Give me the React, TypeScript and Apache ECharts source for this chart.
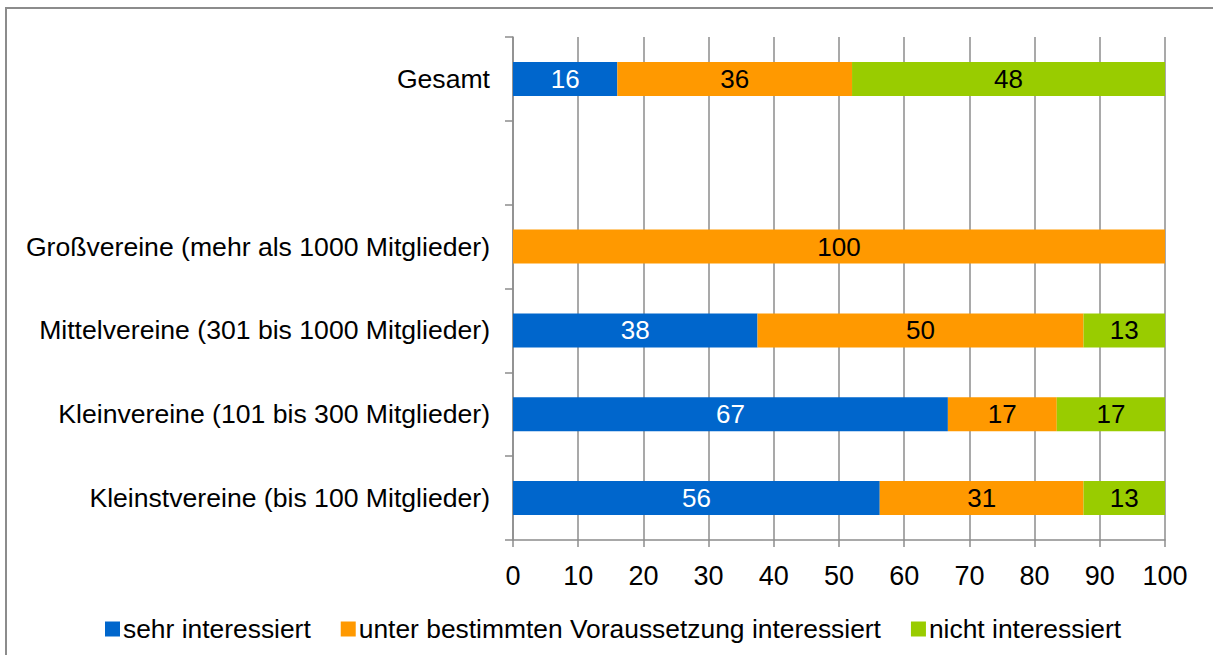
import React, { useEffect, useRef } from "react";
import * as echarts from "echarts";

const categories = [
  "Kleinstvereine (bis 100 Mitglieder)",
  "Kleinvereine (101 bis 300 Mitglieder)",
  "Mittelvereine (301 bis 1000 Mitglieder)",
  "Großvereine (mehr als 1000 Mitglieder)",
  "",
  "Gesamt",
];

const seriesNames = [
  "sehr interessiert",
  "unter bestimmten Voraussetzung interessiert",
  "nicht interessiert",
];

const sehrInteressiert = [56.25, 66.7, 37.5, null, null, 16];
const unterVoraussetzung = [31.25, 16.7, 50, 100, null, 36];
const nichtInteressiert = [12.5, 16.6, 12.5, null, null, 48];

const xTicks = { min: 0, max: 100, interval: 10 };

const colors = ["#0066CC", "#FF9900", "#99CC00"];
const labelColors = ["#ffffff", "#000000", "#000000"];

const FONT = "Liberation Sans, Arial, sans-serif";
const GRAY = "#8c8c8c";

export default function App() {
  const ref = useRef<HTMLDivElement>(null);

  useEffect(() => {
    if (!ref.current) return;
    const chart = echarts.init(ref.current, undefined, { renderer: "svg" });
    const values = [sehrInteressiert, unterVoraussetzung, nichtInteressiert];
    chart.setOption({
      animation: false,
      textStyle: { fontFamily: FONT },
      graphic: [
        {
          type: "rect",
          shape: { x: 6, y: 8, width: 1400, height: 800 },
          style: { fill: "none", stroke: "#8c8c8c", lineWidth: 2 },
          silent: true,
        },
      ],
      legend: {
        left: 100,
        top: 611,
        itemWidth: 15,
        itemHeight: 15,
        itemGap: 30,
        icon: "rect",
        data: seriesNames,
        textStyle: {
          fontFamily: FONT,
          fontSize: 26.4,
          color: "#000",
          padding: [0, 0, 0, -2],
        },
      },
      grid: {
        left: 513,
        right: 48,
        top: 37,
        height: 503,
        containLabel: false,
      },
      xAxis: {
        type: "value",
        min: xTicks.min,
        max: xTicks.max,
        interval: xTicks.interval,
        axisLine: { show: true, lineStyle: { color: GRAY, width: 1.5 } },
        axisTick: { show: true, length: 7, lineStyle: { color: GRAY, width: 1.5 } },
        splitLine: { show: true, lineStyle: { color: GRAY, width: 1.5 } },
        axisLabel: {
          fontFamily: FONT,
          fontSize: 27,
          color: "#000",
          margin: 22,
        },
      },
      yAxis: {
        type: "category",
        data: categories,
        axisLine: { show: true, lineStyle: { color: GRAY, width: 1.5 } },
        axisTick: { show: true, length: 8, lineStyle: { color: GRAY, width: 1.5 } },
        splitLine: { show: false },
        axisLabel: {
          fontFamily: FONT,
          fontSize: 26.6,
          color: "#000",
          margin: 23,
        },
      },
      series: seriesNames.map((name, i) => ({
        name,
        type: "bar",
        stack: "total",
        barWidth: 34,
        data: values[i],
        itemStyle: { color: colors[i] },
        label: {
          show: true,
          position: "inside",
          fontFamily: FONT,
          fontSize: 26,
          color: labelColors[i],
          formatter: (p: any) =>
            p.value == null ? "" : String(Math.round(p.value)),
        },
      })),
    });
    return () => chart.dispose();
  }, []);

  return (
    <div
      ref={ref}
      style={{
        position: "absolute",
        left: 0,
        top: 0,
        width: 1213,
        height: 655,
        background: "#fff",
      }}
    />
  );
}
